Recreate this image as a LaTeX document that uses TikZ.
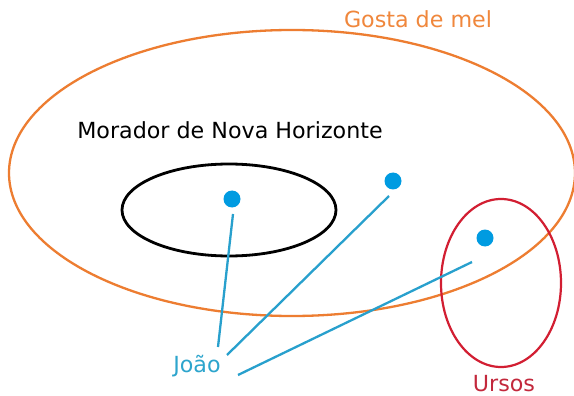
\documentclass[tikz,border=0pt]{standalone}
\usepackage{fontspec}
\setmainfont{DejaVu Sans}
\definecolor{orangeC}{RGB}{237,125,49}
\definecolor{orangeT}{RGB}{240,135,60}
\definecolor{redC}{RGB}{210,30,50}
\definecolor{redT}{RGB}{195,40,60}
\definecolor{blueL}{RGB}{40,160,205}
\definecolor{blueD}{RGB}{0,155,225}
\definecolor{blueT}{RGB}{45,165,205}
\begin{document}
\begin{tikzpicture}[x=1pt,y=-1pt,
  lbl/.style={inner sep=0pt,font=\fontsize{22.2}{26}\selectfont},
  dot/.style={circle,fill=blueD,minimum size=17pt,inner sep=0pt},
  link/.style={blueL,line width=2.3pt}]
\useasboundingbox (0,0) rectangle (574,396);
\fill[white] (0,0) rectangle (574,396);
% sets
\draw[orangeC,line width=2.3pt] (292,173) ellipse [x radius=283,y radius=143];
\draw[black,line width=2.8pt] (229,210) ellipse [x radius=107,y radius=46];
\draw[redC,line width=2.2pt] (501,283) ellipse [x radius=60,y radius=84];
% labels
\node[lbl,text=orangeT] (mel) at (418,19) {Gosta de mel};
\node[lbl,text=black] (morador) at (230,130) {Morador de Nova Horizonte};
\node[lbl,text=blueT] (joao) at (197,366) {João};
\node[lbl,text=redT] (ursos) at (504,384) {Ursos};
% dots
\node[dot] (d1) at (232,199) {};
\node[dot] (d2) at (393,181) {};
\node[dot] (d3) at (485,238) {};
% link ends
\coordinate (s1) at (233,214);
\coordinate (s2) at (389,196);
\coordinate (s3) at (472,262);
\coordinate (e1) at (218,347);
\coordinate (e2) at (227,355);
\coordinate (e3) at (238,375);
\draw[link] (s1) -- (e1);
\draw[link] (s2) -- (e2);
\draw[link] (s3) -- (e3);
\end{tikzpicture}
\end{document}
